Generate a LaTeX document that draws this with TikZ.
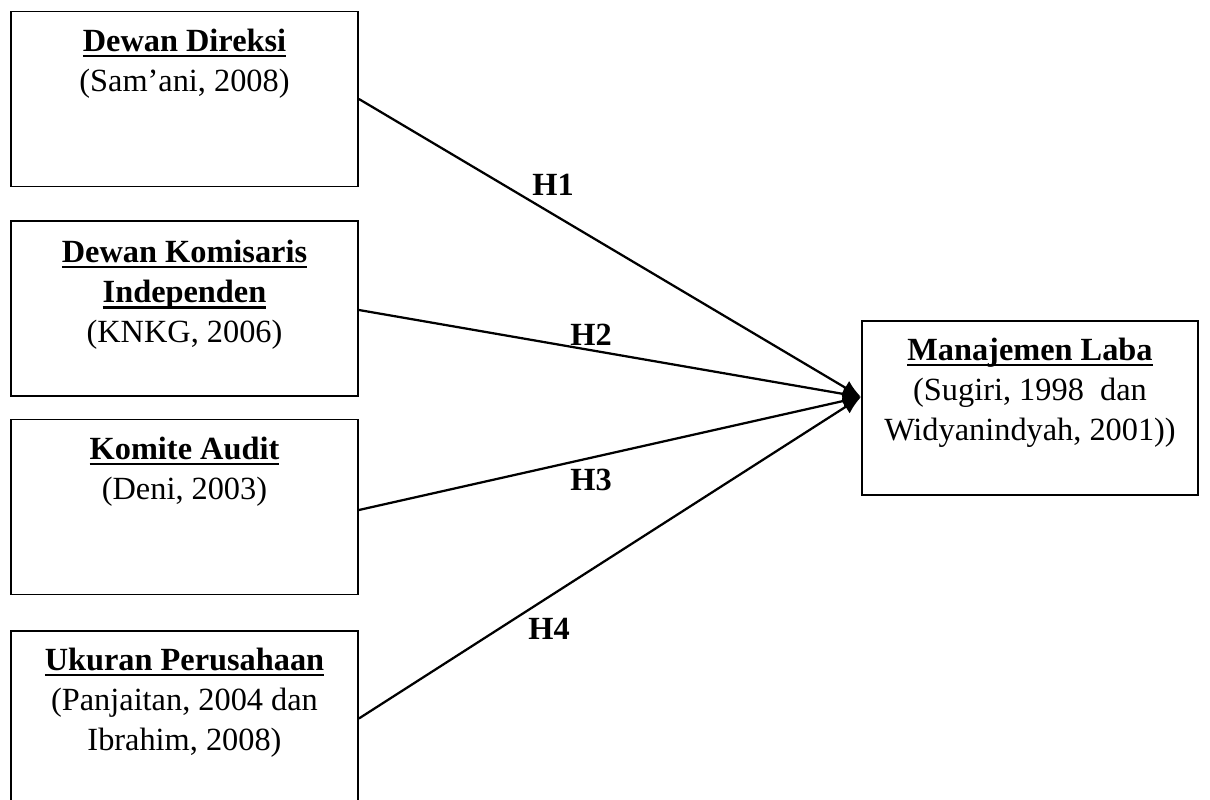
\documentclass[tikz,border=0pt]{standalone}
\usepackage{fontspec}
\setmainfont{Liberation Serif}
\usetikzlibrary{arrows.meta,positioning,calc}
\newcommand\ulbf[1]{\setbox0\hbox{\textbf{#1}}\rlap{\rule[-4pt]{\wd0}{1.5pt}}\box0}

\begin{document}
\begin{tikzpicture}[x=0.025cm,y=-0.025cm,>={Latex[length=13pt,width=11pt]},
  font=\fontsize{23}{28.5}\selectfont,
  varbox/.style={draw,line width=1.3pt,minimum width=347*0.025cm,minimum height=175*0.025cm,inner sep=0pt},
  boxtext/.style={anchor=north,align=center,inner sep=0pt},
  hyp/.style={->,line width=1.6pt},
  hlabel/.style={font=\fontsize{23}{28.5}\selectfont\bfseries}]
\clip (0,0) rectangle (1210,800);
% variabel independen
\node[varbox] (direksi) at (184.5,99) {};
\node[varbox] (komisaris) at (184.5,308.5) {};
\node[varbox] (audit) at (184.5,507) {};
\node[varbox] (ukuran) at (184.5,718.5) {};
% variabel dependen
\node[varbox,minimum width=336*0.025cm,minimum height=174*0.025cm] (laba) at (1030,408) {};
\coordinate (tip) at (861,397);

\node[boxtext] at ($(direksi.north)+(0,18)$) {\ulbf{Dewan Direksi}\\(Sam’ani, 2008)};
\node[boxtext] at ($(komisaris.north)+(0,20)$) {\ulbf{Dewan Komisaris}\\\ulbf{Independen}\\(KNKG, 2006)};
\node[boxtext] at ($(audit.north)+(0,18)$) {\ulbf{Komite Audit}\\(Deni, 2003)};
\node[boxtext] at ($(ukuran.north)+(0,18)$) {\ulbf{Ukuran Perusahaan}\\(Panjaitan, 2004 dan\\Ibrahim, 2008)};
\node[boxtext] at ($(laba.north)+(0,18)$) {\ulbf{Manajemen Laba}\\(Sugiri, 1998~ dan\\Widyanindyah, 2001))};

\draw[hyp] (direksi.east) -- (tip);
\draw[hyp] ($(komisaris.east)+(0,1.5)$) -- (tip);
\draw[hyp] ($(audit.east)+(0,3)$) -- (tip);
\draw[hyp] (ukuran.east) -- (tip);

\node[hlabel] (h1) at (553,185) {H1};
\node[hlabel] (h2) at (591,335) {H2};
\node[hlabel] (h3) at (591,480) {H3};
\node[hlabel] (h4) at (549,629) {H4};
\end{tikzpicture}
\end{document}
